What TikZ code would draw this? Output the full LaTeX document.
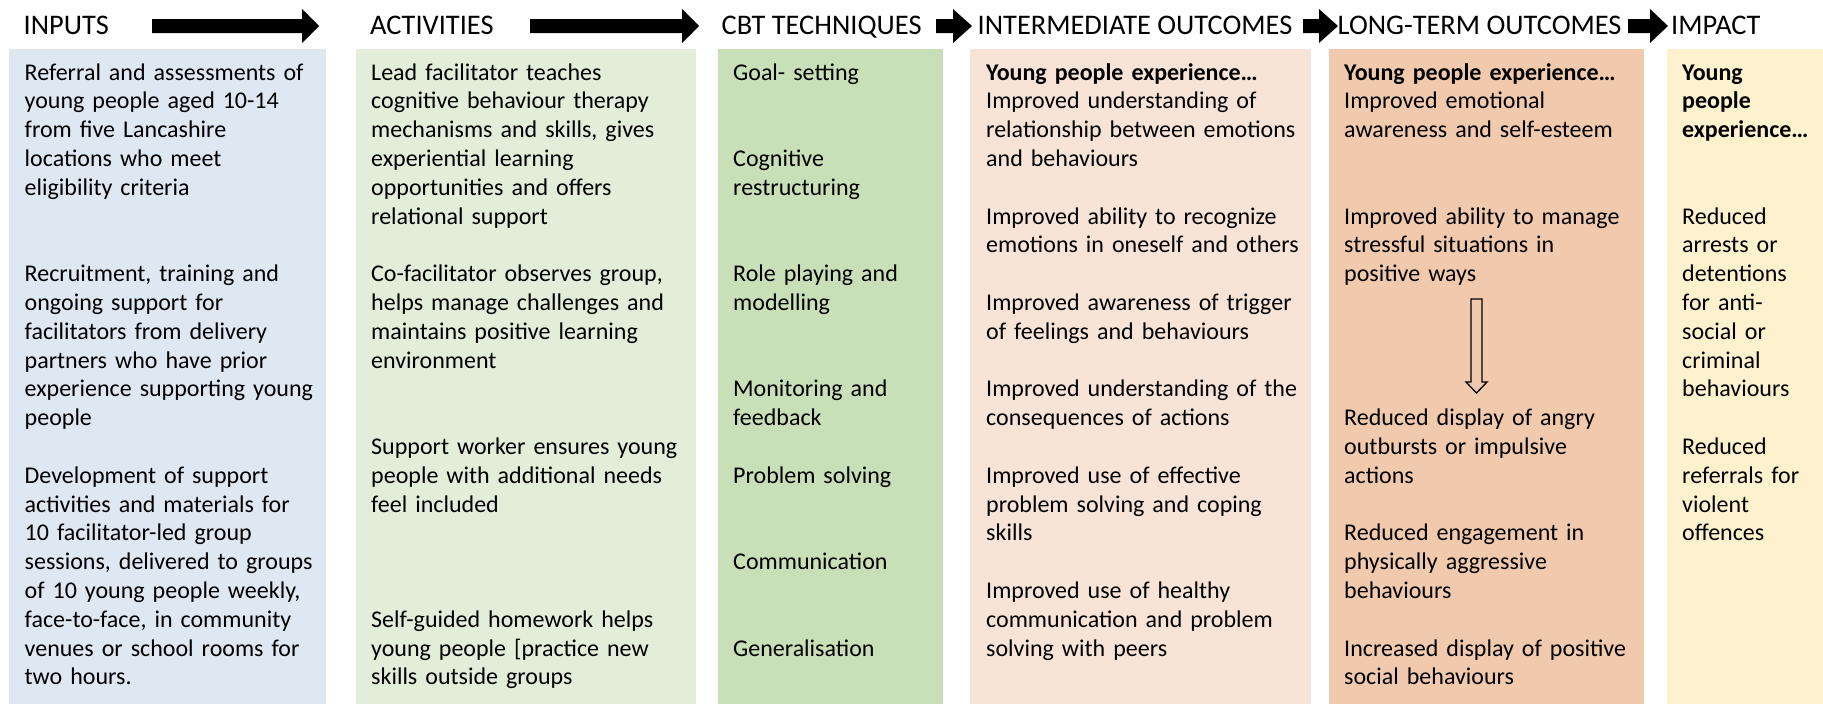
\documentclass[tikz,border=0pt]{standalone}
\usepackage{fontspec}
\setmainfont{Carlito}

\definecolor{inputblue}{HTML}{DEE8F3}
\definecolor{actgreen}{HTML}{E3EEDA}
\definecolor{cbtgreen}{HTML}{C8DFB8}
\definecolor{midpeach}{HTML}{F7E4D7}
\definecolor{longpeach}{HTML}{F1CAAE}
\definecolor{impactyellow}{HTML}{FDF1CE}

% baseline of text row #1 in every column
\newcommand\rowy[1]{80+28.8*#1}
% black block arrow between the column headings: shaft start, head start, tip
\newcommand\blockarrow[3]{\fill[black] (#1,19) -- (#2,19) -- (#2,9) -- (#3,26) -- (#2,43) -- (#2,33) -- (#1,33) -- cycle;}

\begin{document}
\begin{tikzpicture}[x=1pt,y=-1pt,
  hdr/.style={anchor=base west, inner sep=0pt, font=\fontsize{28.4}{34}\selectfont},
  body/.style={anchor=base west, inner sep=0pt, align=left, text width=330pt,
               font=\fontsize{24}{28.8}\selectfont}]
\useasboundingbox (0,0) rectangle (1823,704);
\fill[white] (0,0) rectangle (1823,704);

% column backgrounds
\fill[inputblue]    (9,48.5)    rectangle (326,704);
\fill[actgreen]     (356,48.5)  rectangle (696,704);
\fill[cbtgreen]     (718,48.5)  rectangle (943,704);
\fill[midpeach]     (970,48.5)  rectangle (1311,704);
\fill[longpeach]    (1329,48.5) rectangle (1644,704);
\fill[impactyellow] (1667,48.5) rectangle (1823,704);

% headings
\node[hdr] (hInputs) at (23.5,34) {INPUTS};
\node[hdr] (hAct)    at (370,34)  {ACTIVITIES};
\node[hdr] (hCbt)    at (721.5,34) {CBT TECHNIQUES};
\node[hdr] (hInter)  at (977.5,34) {INTERMEDIATE OUTCOMES};
\node[hdr] (hLong)   at (1337.5,34) {LONG-TERM OUTCOMES};
\node[hdr] (hImpact) at (1671,34) {IMPACT};

% arrows between the headings
\blockarrow{152}{302}{319}
\blockarrow{530}{682}{699}
\blockarrow{936}{953}{972}
\blockarrow{1303}{1319}{1338}
\blockarrow{1628}{1650}{1668}

% INPUTS
\node[body] (in1) at (24.5,{\rowy{0}}) {Referral and assessments of\\young people aged 10-14\\from five Lancashire\\locations who meet\\eligibility criteria};
\node[body] (in2) at (24.5,{\rowy{7}}) {Recruitment, training and\\ongoing support for\\facilitators from delivery\\partners who have prior\\experience supporting young\\people};
\node[body] (in3) at (24.5,{\rowy{14}}) {Development of support\\activities and materials for\\10 facilitator-led group\\sessions, delivered to groups\\of 10 young people weekly,\\face-to-face, in community\\venues or school rooms for\\two hours.};

% ACTIVITIES
\node[body] (ac1) at (371,{\rowy{0}}) {Lead facilitator teaches\\cognitive behaviour therapy\\mechanisms and skills, gives\\experiential learning\\opportunities and offers\\relational support};
\node[body] (ac2) at (371,{\rowy{7}}) {Co-facilitator observes group,\\helps manage challenges and\\maintains positive learning\\environment};
\node[body] (ac3) at (371,{\rowy{13}}) {Support worker ensures young\\people with additional needs\\feel included};
\node[body] (ac4) at (371,{\rowy{19}}) {Self-guided homework helps\\young people [practice new\\skills outside groups};

% CBT TECHNIQUES
\node[body] (cb1) at (733,{\rowy{0}})  {Goal- setting};
\node[body] (cb2) at (733,{\rowy{3}})  {Cognitive\\restructuring};
\node[body] (cb3) at (733,{\rowy{7}})  {Role playing and\\modelling};
\node[body] (cb4) at (733,{\rowy{11}}) {Monitoring and\\feedback};
\node[body] (cb5) at (733,{\rowy{14}}) {Problem solving};
\node[body] (cb6) at (733,{\rowy{17}}) {Communication};
\node[body] (cb7) at (733,{\rowy{20}}) {Generalisation};

% INTERMEDIATE OUTCOMES
\node[body] (io1) at (986,{\rowy{0}})  {\textbf{Young people experience…}\\Improved understanding of\\relationship between emotions\\and behaviours};
\node[body] (io2) at (986,{\rowy{5}})  {Improved ability to recognize\\emotions in oneself and others};
\node[body] (io3) at (986,{\rowy{8}})  {Improved awareness of trigger\\of feelings and behaviours};
\node[body] (io4) at (986,{\rowy{11}}) {Improved understanding of the\\consequences of actions};
\node[body] (io5) at (986,{\rowy{14}}) {Improved use of effective\\problem solving and coping\\skills};
\node[body] (io6) at (986,{\rowy{18}}) {Improved use of healthy\\communication and problem\\solving with peers};

% LONG-TERM OUTCOMES
\node[body] (lt1) at (1344,{\rowy{0}})  {\textbf{Young people experience…}\\Improved emotional\\awareness and self-esteem};
\node[body] (lt2) at (1344,{\rowy{5}})  {Improved ability to manage\\stressful situations in\\positive ways};
\node[body] (lt3) at (1344,{\rowy{12}}) {Reduced display of angry\\outbursts or impulsive\\actions};
\node[body] (lt4) at (1344,{\rowy{16}}) {Reduced engagement in\\physically aggressive\\behaviours};
\node[body] (lt5) at (1344,{\rowy{20}}) {Increased display of positive\\social behaviours};

% hollow downward arrow between the long-term outcomes
\draw[line width=1.3pt, fill=longpeach, line join=miter]
  (1471,299) -- (1482,299) -- (1482,382) -- (1487,382) -- (1476.5,393)
  -- (1466,382) -- (1471,382) -- cycle;

% IMPACT
\node[body] (im1) at (1682,{\rowy{0}})  {\textbf{Young}\\\textbf{people}\\\textbf{experience…}};
\node[body] (im2) at (1682,{\rowy{5}})  {Reduced\\arrests or\\detentions\\for anti-\\social or\\criminal\\behaviours};
\node[body] (im3) at (1682,{\rowy{13}}) {Reduced\\referrals for\\violent\\offences};
\end{tikzpicture}
\end{document}
